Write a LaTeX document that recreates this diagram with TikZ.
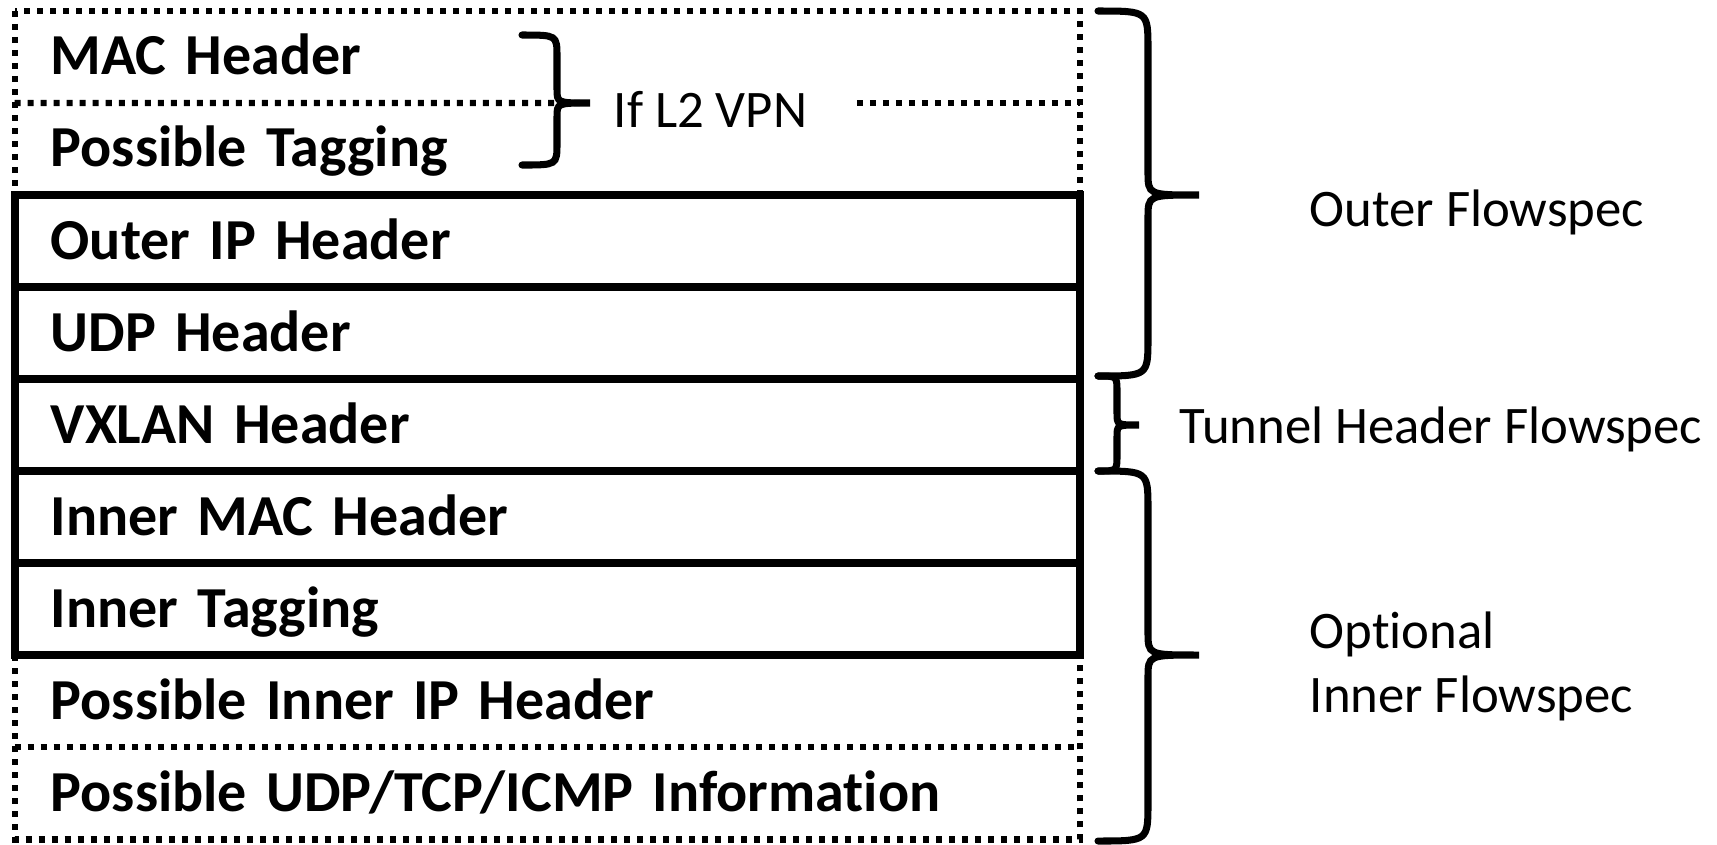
\documentclass[tikz,border=0pt]{standalone}
\usepackage{fontspec}
\setmainfont{Carlito}[Ligatures=NoCommon]
\usetikzlibrary{positioning}

\begin{document}
\begin{tikzpicture}[
    x=0.01cm, y=-0.01cm,
    layer/.style={rectangle, draw, line width=2.2pt, minimum width=10.65cm, minimum height=0.92cm,
        inner sep=0pt, outer sep=0pt, text width=9.93cm, align=left, text height=0.48cm, text depth=0.12cm,
        font={\fontsize{16.5}{20}\selectfont\bfseries\spaceskip=0.15em\relax}},
    optlayer/.style={layer, draw=none},
    dotline/.style={line width=1.8pt, dash pattern=on 0.06cm off 0.07cm},
    bracket/.style={line width=2pt, line cap=round},
    side/.style={anchor=base west, inner sep=0pt, align=left, font=\fontsize{15}{18.2}\selectfont},
    node distance=0pt
]
    \useasboundingbox (0,0) rectangle (1717,844);

    % Mandatory headers
    \node[layer] (outerip) at (547.5,241) {Outer IP Header};
    \node[layer, below=of outerip] (udp) {UDP Header};
    \node[layer, below=of udp] (vxlan) {VXLAN Header};
    \node[layer, below=of vxlan] (innermac) {Inner MAC Header};
    \node[layer, below=of innermac] (innertag) {Inner Tagging};

    % Optional headers
    \node[optlayer, above=of outerip] (tagging) {Possible Tagging};
    \node[optlayer, above=of tagging] (mac) {MAC Header};
    \node[optlayer, below=of innertag] (innerip) {Possible Inner IP Header};
    \node[optlayer, below=of innerip] (l4info) {Possible UDP/TCP/ICMP Information};

    \draw[dotline] (mac.north west) rectangle (tagging.south east);
    \draw[dotline] (innerip.north west) rectangle (l4info.south east);
    \draw[dotline] (innerip.south west) -- (innerip.south east);

    % L2 VPN brace
    \node[side] (l2vpn) at (613,127) {If L2 VPN};
    \draw[dotline] (mac.south west) -- (587,103);
    \draw[dotline] ([xshift=0.49cm]l2vpn.east |- mac.south) -- (mac.south east);
    \draw[bracket] (522,35) .. controls (557,35) .. (557,57) -- (557,89)
        .. controls (557,103) .. (590,103) .. controls (557,103) .. (557,117)
        -- (557,143) .. controls (557,165) .. (522,165);

    % Flowspec braces
    \draw[bracket] (1098,11) .. controls (1148,11) .. (1148,49) -- (1148,172)
        .. controls (1148,195) .. (1199,195) .. controls (1148,195) .. (1148,218)
        -- (1148,338) .. controls (1148,376) .. (1098,376);
    \draw[bracket] (1098,376) .. controls (1117,376) .. (1117,392) -- (1117,413)
        .. controls (1117,425) .. (1139,425) .. controls (1117,425) .. (1117,437)
        -- (1117,455) .. controls (1117,471) .. (1098,471);
    \draw[bracket] (1098,471) .. controls (1148,471) .. (1148,509) -- (1148,632)
        .. controls (1148,655) .. (1199,655) .. controls (1148,655) .. (1148,678)
        -- (1148,803) .. controls (1148,841) .. (1098,841);

    \node[side] (outerfs) at (1309,226) {Outer Flowspec};
    \node[side] (tunnelfs) at (1179,443) {Tunnel Header Flowspec};
    \node[side] (innerfs) at (1309,712) {Optional\\Inner Flowspec};
\end{tikzpicture}
\end{document}
